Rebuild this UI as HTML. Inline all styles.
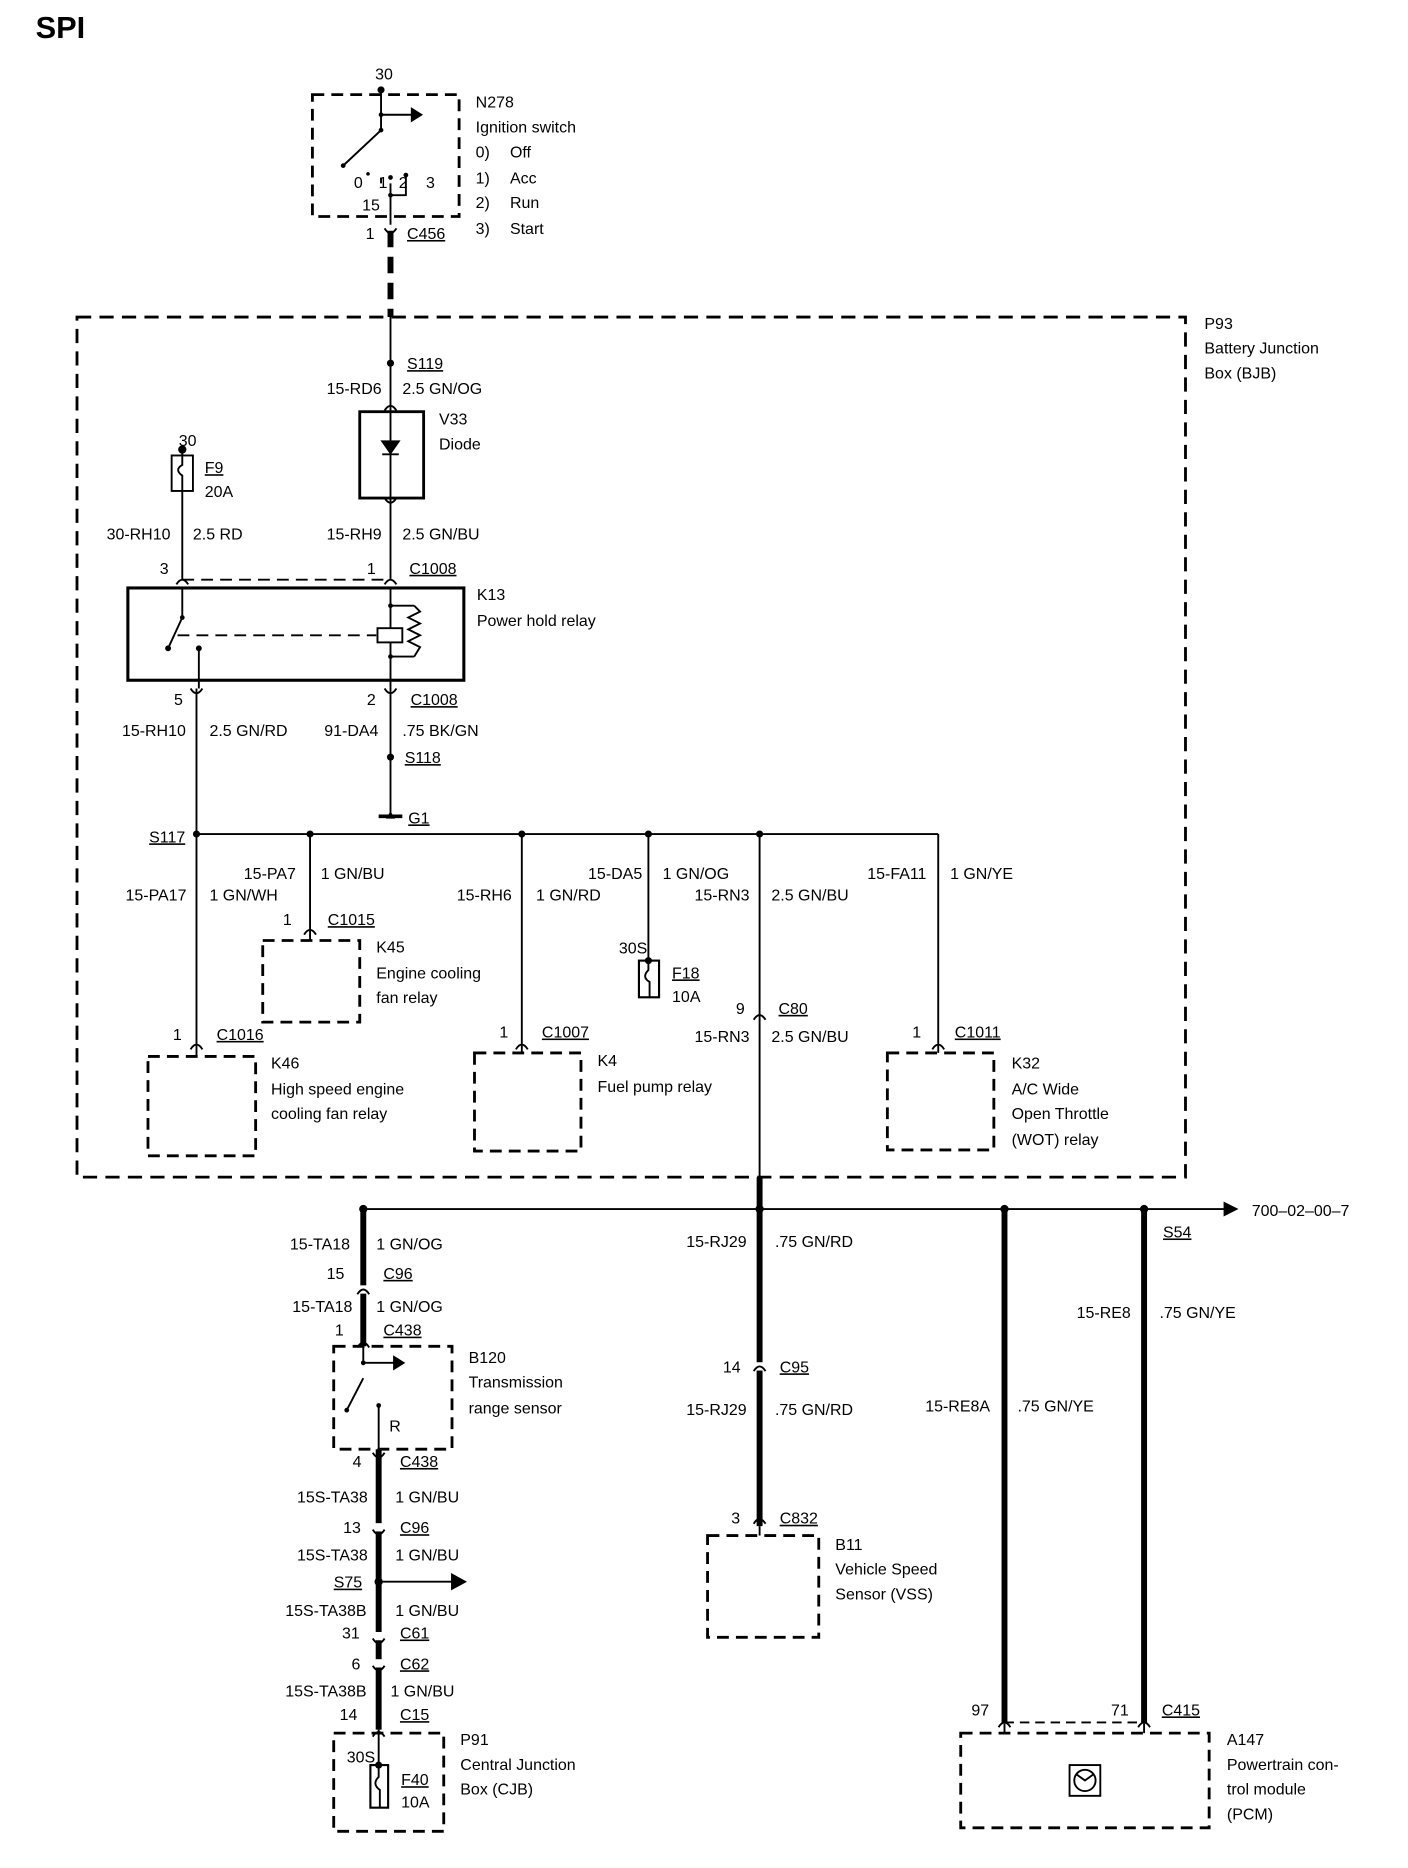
<!DOCTYPE html>
<html><head><meta charset="utf-8"><style>
html,body{margin:0;padding:0;background:#fff}
svg{display:block}
text{font-family:"Liberation Sans",Arial,sans-serif;font-size:13.5px;fill:#000}
.u{text-decoration:underline}
</style></head><body>
<svg width="1408" height="1868" viewBox="0 0 1190 1579" xmlns="http://www.w3.org/2000/svg">
<g fill="none" stroke="#000" stroke-width="1.6">
<rect x="264" y="80" width="124" height="103" stroke-width="2.4" stroke-dasharray="10,6"/>
<path d="M322 76V110 M322 97H348 M322 110L290 140 M330 155V190 M330 165H343V148 M322 155V150"/>
<path d="M348 92L356 97L348 102Z" fill="#000"/>
<path d="M330 195V268" stroke-width="5" stroke-dasharray="14,8"/>
<rect x="65" y="268" width="937" height="727" stroke-width="2.4" stroke-dasharray="12,7"/>
<path d="M330 268V348 M330 421V490"/>
<rect x="304" y="348" width="54" height="73" stroke-width="2.4"/>
<path d="M330 348V421"/>
<path d="M323 373H337L330 383Z M323 384H337" fill="#000"/>
<rect x="145" y="385" width="18" height="30"/>
<path d="M154 380V385 M154 385V393Q147 397 154 402V415 M154 415V490"/>
<path d="M154 490H330" stroke-dasharray="10,6"/>
<rect x="108" y="497" width="284" height="78" stroke-width="2.6"/>
<path d="M154 497V522L142 548 M168 548V582"/>
<path d="M150 537H318" stroke-dasharray="10,6"/>
<rect x="319" y="531" width="21" height="12"/>
<path d="M330 497V531 M330 543V582 M330 512H350 M330 555H350 M350 512L355 517L345 522L355 527L345 532L355 537L345 542L355 547L350 555"/>
<path d="M166 582V705 M330 582V690 M166 705H793 M262 705V786 M441 705V883 M548 705V812 M642 705V1022 M793 705V883"/>
<path d="M642 995V1022" stroke-width="5"/>
<path d="M320 690H340" stroke-width="3"/>
<path d="M166 705V883"/>
<rect x="222" y="795" width="82" height="69" stroke-width="2.4" stroke-dasharray="10,6"/>
<rect x="125" y="893" width="91" height="84" stroke-width="2.4" stroke-dasharray="10,6"/>
<rect x="401" y="890" width="90" height="83" stroke-width="2.4" stroke-dasharray="10,6"/>
<rect x="750" y="890" width="90" height="82" stroke-width="2.4" stroke-dasharray="10,6"/>
<rect x="540" y="812" width="17" height="31" stroke-width="1.8"/>
<path d="M548 812V820Q542 826 549 830V843"/>
<path d="M262 786V795 M166 883V893 M441 883V890 M793 883V890"/>
<path d="M325 347Q330 339 335 347 M325 421Q330 429 335 421 M149 494Q154 486 159 494 M325 494Q330 486 335 494 M161 582Q166 590 171 582 M325 582Q330 590 335 582 M257 790Q262 782 267 790 M161 887Q166 879 171 887 M436 887Q441 879 446 887 M788 887Q793 879 798 887 M637 862Q642 854 647 862 M325 193Q330 201 335 193"/>
<path d="M307 1022H1035"/>
<path d="M1035 1017L1045 1022L1035 1027Z" fill="#000"/>
<path d="M307 1022V1138 M642 1022V1290 M849 1022V1457 M967 1022V1457 M320 1225V1462" stroke-width="5"/>
<path d="M849 1456H967" stroke-dasharray="8,5"/>
<rect x="282" y="1138" width="100" height="87" stroke-width="2.4" stroke-dasharray="10,6"/>
<path d="M307 1138V1152H333 M307 1165L293 1192 M320 1188V1225"/>
<path d="M333 1147L341 1152L333 1157Z" fill="#000"/>
<path d="M320 1337H384"/>
<path d="M382 1331L393 1337L382 1343Z" fill="#000"/>
<rect x="598" y="1298" width="94" height="86" stroke-width="2.4" stroke-dasharray="10,6"/>
<path d="M642 1290V1298"/>
<rect x="282" y="1465" width="93" height="83" stroke-width="2.4" stroke-dasharray="10,6"/>
<path d="M320 1462V1492"/>
<rect x="313" y="1492" width="15" height="36" stroke-width="1.8"/>
<path d="M320 1492V1502Q314 1508 321 1513V1528"/>
<rect x="812" y="1465" width="210" height="80" stroke-width="2.4" stroke-dasharray="10,6"/>
<rect x="904" y="1492" width="26" height="26" stroke-width="1.6"/>
<circle cx="917" cy="1505" r="9"/>
<path d="M910 1500L917 1505L924 1500"/>
<path d="M849 1457V1465 M967 1457V1465"/>
</g>
<g fill="#fff" stroke="#fff" stroke-width="3">
<rect x="304" y="1088" width="6" height="4"/><rect x="639" y="1153" width="6" height="4"/><rect x="317" y="1289" width="6" height="4"/><rect x="317" y="1381" width="6" height="4"/><rect x="317" y="1404" width="6" height="4"/>
</g>
<g fill="none" stroke="#000" stroke-width="1.6">
<path d="M302 1094Q307 1086 312 1094 M302 1139Q307 1131 312 1139 M637 1159Q642 1151 647 1159 M637 1288Q642 1280 647 1288 M315 1228Q320 1236 325 1228 M315 1293Q320 1301 325 1293 M315 1385Q320 1393 325 1385 M315 1408Q320 1416 325 1408 M315 1468Q320 1460 325 1468 M844 1460Q849 1452 854 1460 M962 1460Q967 1452 972 1460"/>
</g>
<g fill="#000">
<circle cx="322" cy="76" r="3"/><circle cx="322" cy="97" r="2"/><circle cx="322" cy="110" r="2"/><circle cx="290" cy="140" r="2"/><circle cx="311" cy="147" r="1.5"/><circle cx="330" cy="150" r="2"/><circle cx="343" cy="148" r="2"/><circle cx="330" cy="165" r="2"/>
<circle cx="330" cy="307" r="3"/><circle cx="154" cy="380" r="3.5"/><circle cx="154" cy="522" r="2"/><circle cx="142" cy="548" r="2.5"/><circle cx="168" cy="548" r="2.5"/><circle cx="330" cy="512" r="2"/><circle cx="330" cy="555" r="2"/>
<circle cx="330" cy="640" r="3"/><circle cx="166" cy="705" r="3"/><circle cx="262" cy="705" r="3"/><circle cx="441" cy="705" r="3"/><circle cx="548" cy="705" r="3"/><circle cx="642" cy="705" r="3"/><circle cx="548" cy="812" r="3"/>
<circle cx="307" cy="1022" r="3.5"/><circle cx="642" cy="1022" r="3.5"/><circle cx="849" cy="1022" r="3.5"/><circle cx="967" cy="1022" r="3.5"/>
<circle cx="307" cy="1152" r="2"/><circle cx="293" cy="1192" r="2"/><circle cx="320" cy="1188" r="2"/><circle cx="320" cy="1337" r="3.5"/><circle cx="320" cy="1492" r="3"/>
<path d="M326 692H334L330 686Z"/>
</g>
<text x="30" y="32" style="font-size:26px;font-weight:bold">SPI</text>
<text x="317" y="67">30</text><text x="299" y="159">0</text><text x="320" y="159">1</text><text x="337" y="159">2</text><text x="360" y="159">3</text><text x="306" y="178">15</text>
<text x="309" y="202">1</text><text x="344" y="202" class="u">C456</text>
<text x="402" y="91">N278</text><text x="402" y="112">Ignition switch</text>
<text x="402" y="133">0)</text><text x="431" y="133">Off</text><text x="402" y="155">1)</text><text x="431" y="155">Acc</text><text x="402" y="176">2)</text><text x="431" y="176">Run</text><text x="402" y="198">3)</text><text x="431" y="198">Start</text>
<text x="1018" y="278">P93</text><text x="1018" y="299">Battery Junction</text><text x="1018" y="320">Box (BJB)</text>
<text x="344" y="312" class="u">S119</text><text x="276" y="333">15-RD6</text><text x="340" y="333">2.5 GN/OG</text>
<text x="371" y="359">V33</text><text x="371" y="380">Diode</text>
<text x="151" y="377">30</text><text x="173" y="400" class="u">F9</text><text x="173" y="420">20A</text>
<text x="90" y="456">30-RH10</text><text x="163" y="456">2.5 RD</text><text x="276" y="456">15-RH9</text><text x="340" y="456">2.5 GN/BU</text>
<text x="135" y="485">3</text><text x="310" y="485">1</text><text x="346" y="485" class="u">C1008</text>
<text x="403" y="507">K13</text><text x="403" y="529">Power hold relay</text>
<text x="147" y="596">5</text><text x="310" y="596">2</text><text x="347" y="596" class="u">C1008</text>
<text x="103" y="622">15-RH10</text><text x="177" y="622">2.5 GN/RD</text><text x="274" y="622">91-DA4</text><text x="340" y="622">.75 BK/GN</text>
<text x="342" y="645" class="u">S118</text><text x="345" y="696" class="u">G1</text><text x="126" y="712" class="u">S117</text>
<text x="106" y="761">15-PA17</text><text x="177" y="761">1 GN/WH</text><text x="206" y="743">15-PA7</text><text x="271" y="743">1 GN/BU</text>
<text x="386" y="761">15-RH6</text><text x="453" y="761">1 GN/RD</text><text x="497" y="743">15-DA5</text><text x="560" y="743">1 GN/OG</text>
<text x="587" y="761">15-RN3</text><text x="652" y="761">2.5 GN/BU</text><text x="733" y="743">15-FA11</text><text x="803" y="743">1 GN/YE</text>
<text x="239" y="782">1</text><text x="277" y="782" class="u">C1015</text><text x="318" y="805">K45</text><text x="318" y="827">Engine cooling</text><text x="318" y="848">fan relay</text>
<text x="523" y="806">30S</text><text x="568" y="827" class="u">F18</text><text x="568" y="847">10A</text>
<text x="622" y="857">9</text><text x="658" y="857" class="u">C80</text><text x="587" y="881">15-RN3</text><text x="652" y="881">2.5 GN/BU</text>
<text x="146" y="879">1</text><text x="183" y="879" class="u">C1016</text><text x="229" y="903">K46</text><text x="229" y="925">High speed engine</text><text x="229" y="946">cooling fan relay</text>
<text x="422" y="877">1</text><text x="458" y="877" class="u">C1007</text><text x="505" y="901">K4</text><text x="505" y="923">Fuel pump relay</text>
<text x="771" y="877">1</text><text x="807" y="877" class="u">C1011</text><text x="855" y="903">K32</text><text x="855" y="925">A/C Wide</text><text x="855" y="946">Open Throttle</text><text x="855" y="968">(WOT) relay</text>
<text x="1058" y="1028">700–02–00–7</text>
<text x="245" y="1056">15-TA18</text><text x="318" y="1056">1 GN/OG</text><text x="276" y="1081">15</text><text x="324" y="1081" class="u">C96</text>
<text x="247" y="1109">15-TA18</text><text x="318" y="1109">1 GN/OG</text><text x="283" y="1129">1</text><text x="324" y="1129" class="u">C438</text>
<text x="396" y="1152">B120</text><text x="396" y="1173">Transmission</text><text x="396" y="1195">range sensor</text><text x="329" y="1210">R</text>
<text x="298" y="1240">4</text><text x="338" y="1240" class="u">C438</text><text x="251" y="1270">15S-TA38</text><text x="334" y="1270">1 GN/BU</text>
<text x="290" y="1296">13</text><text x="338" y="1296" class="u">C96</text><text x="251" y="1319">15S-TA38</text><text x="334" y="1319">1 GN/BU</text>
<text x="282" y="1342" class="u">S75</text><text x="241" y="1366">15S-TA38B</text><text x="334" y="1366">1 GN/BU</text>
<text x="289" y="1385">31</text><text x="338" y="1385" class="u">C61</text><text x="297" y="1411">6</text><text x="338" y="1411" class="u">C62</text>
<text x="241" y="1434">15S-TA38B</text><text x="330" y="1434">1 GN/BU</text><text x="287" y="1454">14</text><text x="338" y="1454" class="u">C15</text>
<text x="293" y="1490">30S</text><text x="339" y="1509" class="u">F40</text><text x="339" y="1528">10A</text>
<text x="389" y="1475">P91</text><text x="389" y="1496">Central Junction</text><text x="389" y="1517">Box (CJB)</text>
<text x="580" y="1054">15-RJ29</text><text x="655" y="1054">.75 GN/RD</text><text x="611" y="1160">14</text><text x="659" y="1160" class="u">C95</text>
<text x="580" y="1196">15-RJ29</text><text x="655" y="1196">.75 GN/RD</text><text x="618" y="1288">3</text><text x="659" y="1288" class="u">C832</text>
<text x="706" y="1310">B11</text><text x="706" y="1331">Vehicle Speed</text><text x="706" y="1352">Sensor (VSS)</text>
<text x="782" y="1193">15-RE8A</text><text x="860" y="1193">.75 GN/YE</text><text x="983" y="1046" class="u">S54</text>
<text x="910" y="1114">15-RE8</text><text x="980" y="1114">.75 GN/YE</text>
<text x="821" y="1450">97</text><text x="939" y="1450">71</text><text x="982" y="1450" class="u">C415</text>
<text x="1037" y="1475">A147</text><text x="1037" y="1496">Powertrain con-</text><text x="1037" y="1517">trol module</text><text x="1037" y="1538">(PCM)</text>
</svg>
</body></html>
